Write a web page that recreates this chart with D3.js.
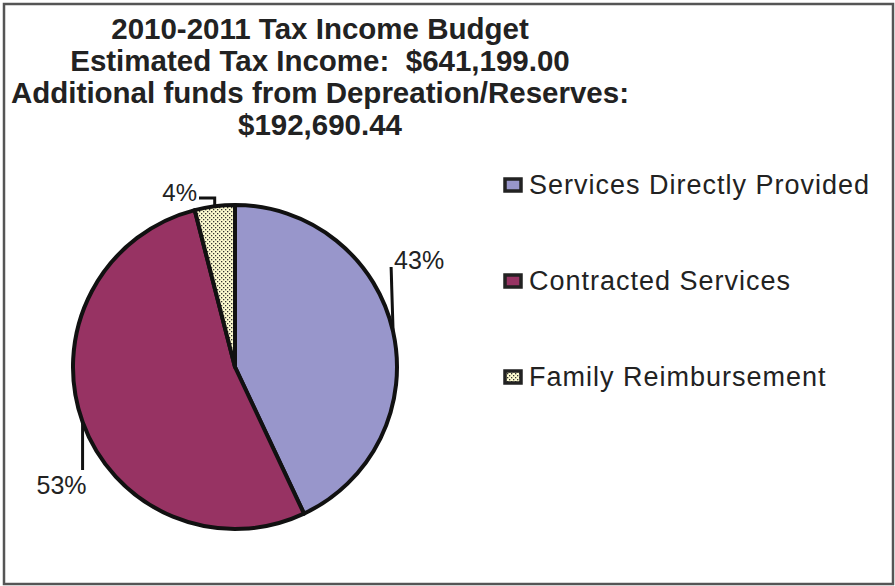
<!DOCTYPE html>
<html>
<head>
<meta charset="utf-8">
<script src="https://cdn.jsdelivr.net/npm/d3@7"></script>
<style>
  body { margin: 0; background: #fff; }
  svg { display: block; }
</style>
</head>
<body>
<div id="chart"></div>
<script>
    var titleLines = [
        "2010-2011 Tax Income Budget",
        "Estimated Tax Income:  $641,199.00",
        "Additional funds from Depreation/Reserves:",
        "$192,690.44"
    ];
    var categories = ["Services Directly Provided", "Contracted Services", "Family Reimbursement"];
    var percents = [43, 53, 4];
    var sliceColors = ["#9896cb", "#973363", "url(#dots)"];

    var width = 895, height = 586;
    var cx = 235, cy = 367, radius = 162;

    var svg = d3.select("#chart").append("svg")
        .attr("width", width)
        .attr("height", height);

    // dotted fill for the small slice
    var pat = svg.append("defs").append("pattern")
        .attr("id", "dots")
        .attr("patternUnits", "userSpaceOnUse")
        .attr("width", 4).attr("height", 4);
    pat.append("rect").attr("width", 4).attr("height", 4).attr("fill", "#fdfbcf");
    pat.append("rect").attr("x", 0).attr("y", 0).attr("width", 1.3).attr("height", 1.3).attr("fill", "#333");
    pat.append("rect").attr("x", 2).attr("y", 2).attr("width", 1.3).attr("height", 1.3).attr("fill", "#333");

    // frame
    svg.append("rect")
        .attr("x", 4).attr("y", 4)
        .attr("width", 889).attr("height", 580)
        .attr("fill", "none")
        .attr("stroke", "#555")
        .attr("stroke-width", 2.5);

    // title
    svg.append("g").selectAll("text")
        .data(titleLines)
        .enter()
        .append("text")
        .attr("x", 320)
        .attr("y", function(d, i) { return 39 + i * 32; })
        .attr("text-anchor", "middle")
        .style("white-space", "pre")
        .style("font-family", "'Liberation Sans Narrow', 'Arial Narrow', 'Liberation Sans', sans-serif")
        .style("font-weight", "bold")
        .style("font-size", "29.5px")
        .style("fill", "#222")
        .text(function(d) { return d; });

    var pie = d3.pie().sort(null).value(function(d) { return d; });
    var arcs = pie(percents);
    var arc = d3.arc().innerRadius(0).outerRadius(radius);

    var g = svg.append("g").attr("transform", "translate(" + cx + "," + cy + ")");
    g.selectAll("path")
        .data(arcs)
        .enter()
        .append("path")
        .attr("d", arc)
        .attr("fill", function(d, i) { return sliceColors[i]; })
        .attr("stroke", "#111")
        .attr("stroke-width", 4)
        .attr("stroke-linejoin", "round");

    // label leader lines: from edge midpoint of each slice
    function edgePt(d, r) {
        var a = (d.startAngle + d.endAngle) / 2;
        return [r * Math.sin(a), -r * Math.cos(a)];
    }
    var labelFont = "'Liberation Sans', Arial, sans-serif";
    var p0 = edgePt(arcs[0], radius);
    var p1 = edgePt(arcs[1], radius);
    var p2 = edgePt(arcs[2], radius);
    var leaders = [
        [p0, [p0[0] - 2, -100]],
        [p1, [p1[0], 103]],
        [p2, [p2[0], -169], [-36, -169]]
    ];
    g.selectAll("path.leader")
        .data(leaders)
        .enter()
        .append("path")
        .attr("class", "leader")
        .attr("d", d3.line())
        .attr("fill", "none")
        .attr("stroke", "#111")
        .attr("stroke-width", 3);

    var labelPos = [
        { x: p0[0] + 1, y: -98, anchor: "start" },
        { x: p1[0] + 4, y: 127, anchor: "end" },
        { x: -38, y: -166, anchor: "end" }
    ];
    g.selectAll("text.lbl")
        .data(arcs)
        .enter()
        .append("text")
        .attr("class", "lbl")
        .attr("x", function(d, i) { return labelPos[i].x; })
        .attr("y", function(d, i) { return labelPos[i].y; })
        .attr("text-anchor", function(d, i) { return labelPos[i].anchor; })
        .style("font-family", labelFont)
        .style("font-size", function(d, i) { return i == 2 ? "24px" : "25px"; })
        .style("fill", "#222")
        .text(function(d) { return d.data + "%"; });

    // legend
    var legend = svg.append("g").selectAll("g")
        .data(categories)
        .enter()
        .append("g")
        .attr("transform", function(d, i) { return "translate(505," + (179 + i * 96) + ")"; });
    legend.append("rect")
        .attr("width", 16).attr("height", 12)
        .attr("fill", function(d, i) { return sliceColors[i]; })
        .attr("stroke", "#222")
        .attr("stroke-width", 3.5);
    legend.append("text")
        .attr("x", 24)
        .attr("y", 15)
        .style("font-family", labelFont)
        .style("font-size", "27px")
        .style("letter-spacing", "1px")
        .style("fill", "#222")
        .text(function(d) { return d; });
</script>
</body>
</html>
